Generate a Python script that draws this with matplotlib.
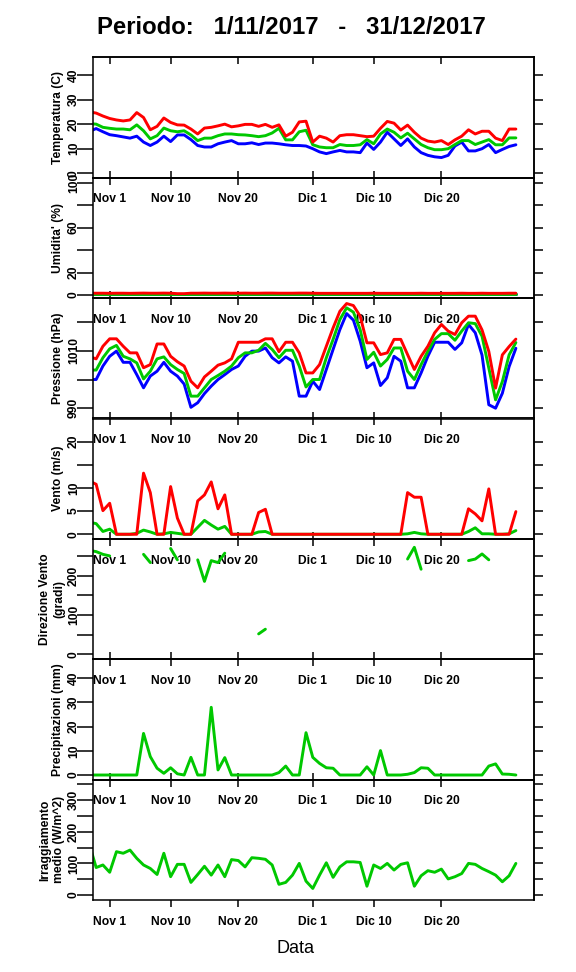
import numpy as np
import pandas as pd
import matplotlib
matplotlib.use('Agg')
import matplotlib.pyplot as plt

plt.rcParams['font.family'] = ['Liberation Sans', 'DejaVu Sans']
plt.rcParams['font.weight'] = 'bold'

# date: i primi giorni sono fuori scala (tagliati dal bordo sinistro)
date = pd.date_range('2017-10-29', '2017-12-31', freq='D')
giorni = (date - pd.Timestamp('2017-11-01')).days.values

tick_date = pd.to_datetime(['2017-11-01', '2017-11-10', '2017-11-20',
                            '2017-12-01', '2017-12-10', '2017-12-20'])
tick_pos = (tick_date - pd.Timestamp('2017-11-01')).days.values
tick_lab = ['Nov 1', 'Nov 10', 'Nov 20', 'Dic 1', 'Dic 10', 'Dic 20']

# temperatura (C)
t_max = [25.0, 24.5, 23.3, 22.3, 21.7, 21.3, 21.7, 24.7, 22.7, 17.7, 19.1, 22.5, 20.7, 19.7, 19.6, 18.0,
         16.0, 18.4, 18.7, 19.3, 20.0, 18.9, 19.3, 19.9, 19.9, 19.1, 19.9, 18.7, 19.7, 15.1, 16.7, 20.9,
         21.2, 12.7, 15.1, 14.3, 12.7, 15.3, 15.7, 15.7, 15.3, 14.9, 15.1, 18.3, 21.1, 20.4, 17.6, 19.6,
         16.7, 14.3, 13.1, 12.7, 13.3, 11.7, 13.6, 15.1, 17.7, 16.0, 17.1, 17.1, 14.3, 13.3, 18.0, 18.0]
t_med = [20.2, 20.0, 18.7, 18.3, 18.0, 18.0, 17.7, 19.7, 17.3, 14.0, 15.3, 18.4, 17.3, 16.9, 17.3, 15.6,
         13.3, 14.3, 14.3, 15.3, 16.0, 16.0, 15.7, 15.6, 15.3, 14.9, 15.3, 16.4, 18.3, 13.6, 13.6, 16.9,
         17.5, 11.6, 10.7, 10.4, 10.4, 11.7, 11.3, 11.3, 11.6, 13.7, 12.0, 16.0, 18.0, 16.7, 14.4, 16.3,
         14.0, 11.7, 10.4, 9.6, 9.6, 10.0, 11.7, 13.3, 13.3, 11.7, 12.7, 13.7, 11.6, 11.6, 14.4, 14.4]
t_min = [17.0, 18.2, 16.9, 15.7, 15.3, 14.8, 14.3, 15.1, 12.7, 11.3, 12.7, 15.1, 12.9, 15.6, 15.6, 13.7,
         11.3, 10.7, 10.7, 12.0, 12.7, 13.3, 12.0, 12.0, 12.4, 11.7, 12.3, 12.3, 12.0, 11.6, 11.3, 11.3,
         11.1, 10.0, 8.7, 8.0, 8.7, 9.3, 8.7, 8.7, 8.4, 12.3, 9.7, 12.7, 16.7, 14.0, 11.3, 14.0,
         10.7, 8.4, 7.3, 6.7, 6.4, 7.3, 11.1, 12.7, 9.1, 9.1, 10.0, 11.7, 8.4, 9.7, 10.9, 11.6]

# umidita' (%)
u_max = [1.6, 1.6, 1.6, 1.5, 1.6, 1.6, 1.5, 1.6, 1.7, 1.6, 1.6, 1.7, 1.6, 1.2, 1.2, 1.6,
         1.6, 1.7, 1.6, 1.6, 1.7, 1.6, 1.6, 1.7, 1.6, 1.6, 1.7, 1.7, 1.6, 1.6, 1.6, 1.7,
         1.7, 1.6, 1.5, 1.5, 1.5, 1.5, 1.5, 1.5, 1.5, 1.5, 1.6, 1.5, 1.5, 1.5, 1.5, 1.5,
         1.5, 1.6, 1.5, 1.5, 1.5, 1.5, 1.5, 1.6, 1.5, 1.5, 1.6, 1.5, 1.5, 1.5, 1.6, 1.6]
u_med = [1.3, 1.3, 1.3, 1.3, 1.3, 1.3, 1.3, 1.3, 1.3, 1.3, 1.3, 1.3, 1.3, 1.3, 1.3, 1.3,
         1.3, 1.3, 1.3, 1.3, 1.3, 1.3, 1.3, 1.3, 1.3, 1.3, 1.3, 1.3, 1.3, 1.3, 1.3, 1.3,
         1.3, 1.3, 1.3, 1.3, 1.3, 1.3, 1.3, 1.3, 1.3, 1.3, 1.3, 1.3, 1.3, 1.3, 1.3, 1.3,
         1.3, 1.3, 1.3, 1.3, 1.3, 1.3, 1.3, 1.3, 1.3, 1.3, 1.3, 1.3, 1.3, 1.3, 1.3, 1.3]
u_min = [1.0, 1.0, 1.0, 1.0, 1.0, 1.0, 1.0, 1.0, 1.0, 1.0, 1.0, 1.0, 1.0, 1.0, 1.0, 1.0,
         1.0, 1.0, 1.0, 1.0, 1.0, 1.0, 1.0, 1.0, 1.0, 1.0, 1.0, 1.0, 1.0, 1.0, 1.0, 1.0,
         1.0, 1.0, 1.0, 1.0, 1.0, 1.0, 1.0, 1.0, 1.0, 1.0, 1.0, 1.0, 1.0, 1.0, 1.0, 1.0,
         1.0, 1.0, 1.0, 1.0, 1.0, 1.0, 1.0, 1.0, 1.0, 1.0, 1.0, 1.0, 1.0, 1.0, 1.0, 1.0]

# pressione (hPa)
p_max = [1008.0, 1007.2, 1011.6, 1014.2, 1014.2, 1011.6, 1009.3, 1009.3, 1004.1, 1005.2, 1012.4, 1012.4,
         1008.1, 1006.2, 1004.7, 999.4, 997.1, 1000.9, 1002.9, 1005.0, 1005.8, 1007.2, 1013.0, 1013.0,
         1013.0, 1013.0, 1014.2, 1014.2, 1009.7, 1013.0, 1013.0, 1009.3, 1002.3, 1002.3, 1005.2, 1011.6,
         1018.0, 1023.8, 1026.5, 1025.8, 1022.1, 1012.8, 1012.8, 1008.7, 1009.3, 1014.0, 1014.0, 1008.7,
         1003.5, 1008.1, 1011.6, 1016.3, 1019.2, 1016.9, 1015.7, 1019.8, 1022.1, 1022.1, 1017.3, 1009.8,
         997.0, 1008.6, 1011.5, 1014.1]
p_med = [1003.3, 1003.3, 1007.6, 1010.7, 1011.9, 1008.1, 1007.2, 1005.8, 1000.2, 1002.9, 1007.2, 1007.9,
         1005.2, 1003.5, 1002.1, 994.2, 994.2, 997.1, 1000.0, 1001.4, 1002.9, 1004.7, 1007.6, 1009.3,
         1009.3, 1010.2, 1012.6, 1010.5, 1007.6, 1010.2, 1010.2, 1004.7, 997.4, 1000.0, 1000.0, 1007.6,
         1014.0, 1020.9, 1025.0, 1023.5, 1017.4, 1007.0, 1009.5, 1004.7, 1007.0, 1011.0, 1011.0, 1002.9,
         1000.0, 1005.2, 1009.9, 1014.0, 1016.0, 1016.0, 1013.7, 1016.9, 1019.8, 1019.5, 1015.1, 1004.0,
         992.9, 999.3, 1008.6, 1012.9]
p_min = [1000.0, 1000.0, 1004.7, 1008.1, 1009.9, 1006.0, 1006.0, 1001.7, 997.1, 1001.2, 1002.9, 1006.0,
         1002.9, 1001.2, 998.4, 990.3, 991.9, 995.1, 997.7, 1000.0, 1001.7, 1003.5, 1004.7, 1008.1,
         1009.9, 1009.9, 1011.0, 1007.6, 1005.8, 1007.9, 1006.4, 994.2, 994.2, 999.4, 996.5, 1003.5,
         1010.5, 1017.4, 1023.0, 1020.7, 1013.4, 1004.1, 1005.8, 997.9, 1000.6, 1008.1, 1006.4, 997.1,
         997.1, 1002.3, 1008.1, 1013.0, 1013.0, 1013.0, 1010.5, 1012.8, 1019.2, 1016.3, 1008.5, 991.2,
         990.0, 995.2, 1004.5, 1010.9]

# vento (m/s)
v_max = [11.5, 10.8, 5.1, 6.7, 0, 0, 0, 0, 13.2, 9.0, 0, 0, 10.3, 3.5, 0, 0,
         7.2, 8.5, 11.3, 5.5, 8.5, 0, 0, 0, 0, 4.7, 5.4, 0, 0, 0, 0, 0,
         0, 0, 0, 0, 0, 0, 0, 0, 0, 0, 0, 0, 0, 0, 0, 9.0,
         8.0, 8.0, 0, 0, 0, 0, 0, 0, 5.5, 4.4, 2.9, 9.8, 0, 0, 0, 4.9]
v_med = [2.6, 2.3, 0.6, 1.1, 0, 0, 0, 0.2, 0.9, 0.5, 0, 0.1, 0.4, 0.2, 0, 0,
         1.5, 3.0, 2.0, 1.1, 1.7, 0, 0, 0, 0, 0.5, 0.6, 0, 0, 0, 0, 0,
         0, 0, 0, 0, 0, 0, 0, 0, 0, 0, 0, 0, 0, 0, 0, 0.1,
         0.4, 0.1, 0, 0, 0, 0, 0, 0, 0.6, 1.4, 0.1, 0.1, 0, 0, 0.1, 0.8]

# direzione vento (gradi), vuoto con calma di vento
nan = np.nan
v_dir = [265, 262, 255, 251, nan, nan, nan, nan, 255, 234, nan, nan, 270, 241, nan, nan,
         241, 186, 239, 234, 258, nan, nan, nan, nan, 52, 64, nan, nan, nan, nan, nan,
         nan, nan, nan, nan, nan, nan, nan, nan, nan, nan, nan, nan, nan, nan, nan, 243,
         273, 217, nan, nan, nan, nan, nan, nan, 239, 243, 256, 241, nan, nan, nan, nan]

# precipitazioni (mm)
prec = [0, 0, 0, 0, 0, 0, 0, 0, 17.2, 7.6, 2.8, 0.7, 3.0, 0.5, 0, 7.3,
        0, 0, 28.0, 2.1, 7.2, 0, 0, 0, 0, 0, 0, 0, 1.0, 3.7, 0, 0,
        17.5, 7.3, 4.8, 3.0, 2.8, 0, 0, 0, 0, 3.4, 0, 10.1, 0, 0, 0, 0.3,
        1.0, 3.0, 2.8, 0, 0, 0, 0, 0, 0, 0, 0, 3.7, 4.6, 0.4, 0.3, 0]

# irraggiamento medio (W/m^2)
irr = [160, 87, 95, 72, 137, 132, 142, 116, 95, 84, 65, 132, 58, 97, 97, 40,
       65, 91, 63, 95, 58, 112, 109, 89, 118, 116, 113, 95, 34, 40, 63, 100,
       44, 21, 63, 102, 56, 89, 105, 105, 103, 28, 95, 84, 100, 79, 97, 102,
       28, 61, 77, 72, 82, 51, 58, 68, 100, 97, 84, 74, 63, 42, 61, 100]

ROSSO, VERDE, BLU = '#ff0000', '#00c800', '#0000ff'

pannelli = [
    dict(serie=[(t_min, BLU), (t_med, VERDE), (t_max, ROSSO)], ylim=(-1.8, 47.2),
         yt=[0, 10, 20, 30, 40], ylab=['0', '10', '20', '30', '40'], nome=['Temperatura (C)']),
    dict(serie=[(u_min, BLU), (u_med, VERDE), (u_max, ROSSO)], ylim=(-2.76, 104.45),
         yt=[0, 20, 40, 60, 80, 100], ylab=['0', '20', '', '60', '', '100'], nome=["Umidita' (%)"]),
    dict(serie=[(p_min, BLU), (p_med, VERDE), (p_max, ROSSO)], ylim=(986.4, 1028.4),
         yt=[990, 1000, 1010, 1020], ylab=['990', '', '1010', ''], nome=['Pressione (hPa)']),
    dict(serie=[(v_med, VERDE), (v_max, ROSSO)], ylim=(-1.0, 25.0),
         yt=[0, 5, 10, 15, 20], ylab=['0', '5', '10', '', '20'], nome=['Vento (m/s)']),
    dict(serie=[(v_dir, VERDE)], ylim=(-12.8, 294.4),
         yt=[0, 50, 100, 150, 200, 250], ylab=['0', '', '100', '', '200', ''],
         nome=['Direzione Vento', '(gradi)']),
    dict(serie=[(prec, VERDE)], ylim=(-1.94, 47.85),
         yt=[0, 10, 20, 30, 40], ylab=['0', '10', '20', '30', '40'], nome=['Precipitazioni (mm)']),
    dict(serie=[(irr, VERDE)], ylim=(-15.8, 364.1),
         yt=[0, 50, 100, 150, 200, 250, 300, 350], ylab=['0', '', '100', '', '200', '', '300', ''],
         nome=['Irraggiamento', 'medio (W/m^2)']),
]

W, H = 576, 972
bordi = [57.3, 177.7, 298.1, 418.5, 538.9, 659.3, 779.7, 900.1]
x_sx, x_dx = 93.3, 534.3

fig = plt.figure(figsize=(W / 100, H / 100), dpi=100)

for k, p in enumerate(pannelli):
    alto, basso = bordi[k], bordi[k + 1]
    ax = fig.add_axes([x_sx / W, 1 - basso / H, (x_dx - x_sx) / W, (basso - alto) / H])
    ax.patch.set_visible(False)
    for y, c in p['serie']:
        ax.plot(giorni, y, color=c, lw=2.1, solid_joinstyle='round', solid_capstyle='round')
    ax.set_xlim(-2.42, 62.72)
    ax.set_ylim(*p['ylim'])
    for s in ax.spines.values():
        s.set_linewidth(1.1)

    ultimo = (k == len(pannelli) - 1)
    ax.set_xticks(tick_pos, tick_lab)
    if ultimo:
        ax.tick_params(axis='x', direction='out', length=4.8, width=1.1, pad=6.3, labelsize=8.7)
    else:
        ax.tick_params(axis='x', direction='in', length=4.7, width=1.1, pad=11.3, labelsize=8.7)

    ax.set_yticks(p['yt'], p['ylab'])
    ax.tick_params(axis='y', direction='out', length=11.5, width=1.1, pad=-1.8,
                   labelsize=8.7, labelrotation=90)
    plt.setp(ax.get_yticklabels(), va='center')

    sopra = ax.secondary_xaxis('top')
    sopra.set_xticks(tick_pos)
    sopra.tick_params(direction='in', length=5.3, width=1.1, labeltop=False)
    sopra.spines['top'].set_linewidth(1.1)

    destra = ax.secondary_yaxis('right')
    destra.set_yticks(p['yt'])
    destra.tick_params(direction='out', length=6.5, width=1.1, labelright=False)
    destra.spines['right'].set_linewidth(1.1)

    yc = 1 - (alto + basso) / 2 / H
    if len(p['nome']) == 1:
        fig.text(58.5 / W, yc, p['nome'][0], rotation=90, ha='center', va='center', fontsize=8.7)
    else:
        for riga, xp in zip(p['nome'], [44.8, 59.3]):
            fig.text(xp / W, yc, riga, rotation=90, ha='center', va='center', fontsize=8.7)

fig.text(291 / W, 1 - 28 / H, 'Periodo:   1/11/2017   -   31/12/2017',
         ha='center', va='center', fontsize=17.2, fontweight='bold')
fig.text(295 / W, 1 - 948 / H, 'Data', ha='center', va='center', fontsize=13, fontweight='normal')

fig.savefig('out.png', dpi=100)
